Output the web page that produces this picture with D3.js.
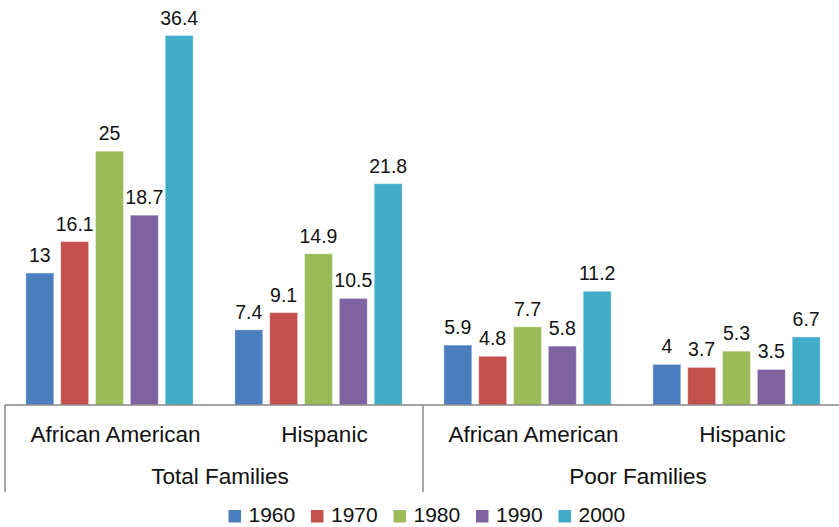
<!DOCTYPE html>
<html lang="en">
<head>
<meta charset="UTF-8">
<title>Families by year</title>
<script src="https://d3js.org/d3.v7.min.js"></script>
<style>
    body { margin: 0; background: #fff; }
    text { font-family: "Liberation Sans", Arial, Helvetica, sans-serif; fill: #111; }
    .sep { stroke: #878787; stroke-width: 1.5; }
</style>
</head>
<body>
<svg width="839" height="527"></svg>
<script>
    // Data
    const groups = ["Total Families", "Poor Families"];
    const subgroups = ["African American", "Hispanic"];
    const years = ["1960", "1970", "1980", "1990", "2000"];
    const colors = ["#4a7ebf", "#c4504e", "#9bbb59", "#7f63a1", "#40acc8"];

    // one value per category (Total AA, Total Hisp, Poor AA, Poor Hisp)
    const v1960 = [13, 7.4, 5.9, 4];
    const v1970 = [16.1, 9.1, 4.8, 3.7];
    const v1980 = [25, 14.9, 7.7, 5.3];
    const v1990 = [18.7, 10.5, 5.8, 3.5];
    const v2000 = [36.4, 21.8, 11.2, 6.7];
    const series = [v1960, v1970, v1980, v1990, v2000];

    const svg = d3.select("svg");
    const left = 5, right = 841, base = 405;

    // flat list of the four categories
    const cats = [];
    groups.forEach((g, gi) => subgroups.forEach((s, si) => cats.push({g: gi, s: si, label: s})));

    const xOuter = d3.scaleBand().domain(d3.range(groups.length)).range([left, right]);
    const x0 = d3.scaleBand().domain(d3.range(cats.length)).range([left, right]);
    const x1 = d3.scaleBand().domain(years)
        .range([0, x0.bandwidth()])
        .paddingInner(0.2)
        .paddingOuter(0.6);
    const y = d3.scaleLinear().domain([0, 40]).range([base, -1]);

    const rows = [];
    cats.forEach((c, ci) => {
        years.forEach((yr, yi) => rows.push({ci, yr, yi, v: series[yi][ci]}));
    });

    // bars
    svg.append("g").selectAll("rect")
        .data(rows)
        .enter().append("rect")
        .attr("x", d => x0(d.ci) + x1(d.yr))
        .attr("y", d => y(d.v))
        .attr("width", x1.bandwidth())
        .attr("height", d => base - y(d.v))
        .attr("fill", d => colors[d.yi])
        .attr("stroke", "rgba(255,255,255,0.35)")
        .attr("stroke-width", 1);

    // value labels
    svg.append("g").selectAll("text")
        .data(rows)
        .enter().append("text")
        .attr("x", d => x0(d.ci) + x1(d.yr) + x1.bandwidth() / 2)
        .attr("y", d => y(d.v) - 11)
        .attr("text-anchor", "middle")
        .style("font-size", "19.5px")
        .text(d => d.v);

    // axis line and group separators
    svg.append("line").attr("class", "sep")
        .attr("x1", left).attr("x2", right)
        .attr("y1", base).attr("y2", base);

    const seps = d3.range(groups.length + 1).map(i => i < groups.length ? xOuter(i) : right);
    svg.append("g").selectAll("line")
        .data(seps)
        .enter().append("line")
        .attr("class", "sep")
        .attr("x1", d => d).attr("x2", d => d)
        .attr("y1", base).attr("y2", 492);

    // sub-category labels
    svg.append("g").selectAll("text")
        .data(cats)
        .enter().append("text")
        .attr("x", (d, i) => x0(i) + x0.bandwidth() / 2 + 6)
        .attr("y", 442)
        .attr("text-anchor", "middle")
        .style("font-size", "22.5px")
        .text(d => d.label);

    // group labels
    svg.append("g").selectAll("text")
        .data(groups)
        .enter().append("text")
        .attr("x", (d, i) => xOuter(i) + xOuter.bandwidth() / 2 + 6)
        .attr("y", 484)
        .attr("text-anchor", "middle")
        .style("font-size", "22.5px")
        .text(d => d);

    // legend
    const legend = svg.append("g").selectAll("g")
        .data(years)
        .enter().append("g")
        .attr("transform", (d, i) => `translate(${228.5 + i * 82.5},510)`);

    legend.append("rect")
        .attr("width", 12.5).attr("height", 12.5)
        .attr("fill", (d, i) => colors[i]);

    legend.append("text")
        .attr("x", 20).attr("y", 11.5)
        .style("font-size", "21px")
        .text(d => d);
</script>
</body>
</html>
